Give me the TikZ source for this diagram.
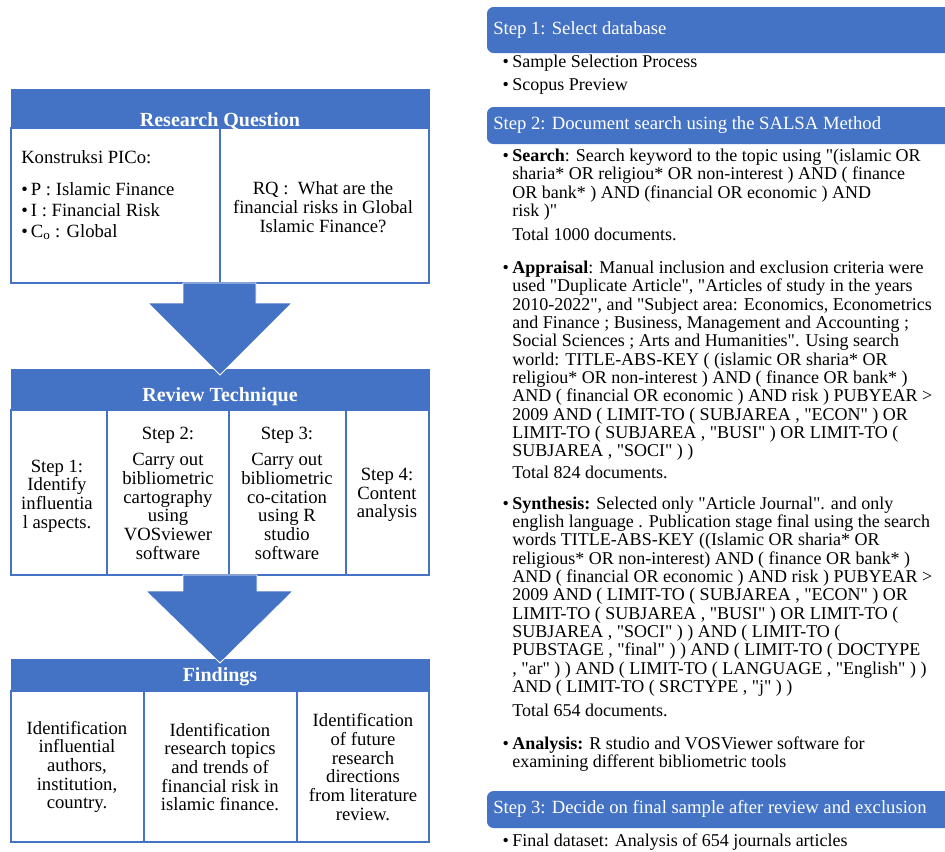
\documentclass[tikz,border=0pt]{standalone}
\usepackage{fontspec}
\setmainfont{Liberation Serif}[Ligatures=TeXOff]
\definecolor{hdrblue}{HTML}{4472C4}
\tikzset{
  hdr/.style={fill=hdrblue, draw=hdrblue},
  cell/.style={draw=hdrblue, line width=1.1pt, fill=white},
  hdrtext/.style={text=white, inner sep=0pt, font=\fontsize{15}{16}\selectfont\bfseries},
  body/.style={inner sep=0pt, align=center, font=\fontsize{14}{14}\selectfont},
  item/.style={inner sep=0pt, align=left, anchor=base west, font=\fontsize{13.5}{13.75}\selectfont},
  stephdr/.style={fill=hdrblue, rounded corners=5pt},
  steptext/.style={text=white, inner sep=0pt, anchor=west, font=\fontsize{14}{16}\selectfont},
  blockarrow/.style={fill=hdrblue, draw=white, line width=0.6pt},
}
\newcommand{\bul}{\llap{\textbullet\hspace{2.5pt}}}
\begin{document}
\begin{tikzpicture}[x=0.75pt,y=-0.75pt]
\useasboundingbox (0,0) rectangle (945,851);
\fill[white] (0,0) rectangle (945,851);

% research question
\draw[hdr] (11,89) rectangle (429,128);
\draw[cell] (11,128) rectangle (220,283);
\draw[cell] (220,128) rectangle (429,283);
\node[hdrtext] (rqhead) at (220,121) {Research Question};
\node[body, align=left, anchor=base west, font=\fontsize{14}{15.75}\selectfont] (pico) at (21,237)
  {Konstruksi PICo:\\[8pt]
   \textbullet\,P : Islamic Finance\\
   \textbullet\,I : Financial Risk\\
   \textbullet\,C\textsubscript{o} : Global};
\node[body] (rq) at (323,207) {RQ :\ \ What are the\\financial risks in Global\\Islamic Finance?};

% review technique
\draw[hdr] (11,369) rectangle (429,410);
\draw[cell] (11,410) rectangle (107,575);
\draw[cell] (107,410) rectangle (229,575);
\draw[cell] (229,410) rectangle (346,575);
\draw[cell] (346,410) rectangle (429,575);
\fill[blockarrow] (183,283) -- (256,283) -- (256,303) -- (292,303) -- (220,375) -- (148,303) -- (183,303) -- cycle;
\node[hdrtext] (rthead) at (220,397) {Review Technique};
\node[body] (step1) at (57,496) {Step 1:\\Identify\\influentia\\l aspects.};
\node[body] (step2) at (168,493) {Step 2:\\[6pt]Carry out\\bibliometric\\cartography\\using\\VOSviewer\\software};
\node[body] (step3) at (287,493) {Step 3:\\[6pt]Carry out\\bibliometric\\co-citation\\using R\\studio\\software};
\node[body] (step4) at (387,495) {Step 4:\\Content\\analysis};

% findings
\draw[hdr] (11,659) rectangle (429,691);
\draw[cell] (11,691) rectangle (144,842);
\draw[cell] (144,691) rectangle (297,842);
\draw[cell] (297,691) rectangle (429,842);
\fill[blockarrow] (183,575) -- (257,575) -- (257,591) -- (293,591) -- (220,663) -- (146,591) -- (183,591) -- cycle;
\node[hdrtext] (fhead) at (220,677) {Findings};
\node[body] (find1) at (77,767) {Identification\\influential\\authors,\\institution,\\country.};
\node[body] (find2) at (220,767) {Identification\\research topics\\and trends of\\financial risk in\\islamic finance.};
\node[body] (find3) at (363,767) {Identification\\of future\\research\\directions\\from literature\\review.};

% salsa steps
\fill[stephdr] (487,7) rectangle (975,53);
\node[steptext] (db) at (493,30) {Step 1: Select database};
\node[item] (sample) at (512,67.5) {\bul Sample Selection Process};
\node[item] (scopus) at (512,90.5) {\bul Scopus Preview};

\fill[stephdr] (487,107) rectangle (975,144);
\node[steptext] (salsa) at (493,125) {Step 2: Document search using the SALSA Method};
\node[item] (search) at (512,240)
  {\bul\textbf{Search}: Search keyword to the topic using "(islamic OR\\
   sharia* OR religiou* OR non-interest ) AND ( finance\\
   OR bank* ) AND (financial OR economic ) AND\\
   risk )"\\[4pt]
   Total 1000 documents.};
\node[item] (appraisal) at (512,478.5)
  {\bul\textbf{Appraisal}: Manual inclusion and exclusion criteria were\\
   used "Duplicate Article", "Articles of study in the years\\
   2010-2022", and "Subject area: Economics, Econometrics\\
   and Finance ; Business, Management and Accounting ;\\
   Social Sciences ; Arts and Humanities". Using search\\
   world: TITLE-ABS-KEY ( (islamic OR sharia* OR\\
   religiou* OR non-interest ) AND ( finance OR bank* )\\
   AND ( financial OR economic ) AND risk ) PUBYEAR >\\
   2009 AND ( LIMIT-TO ( SUBJAREA , "ECON" ) OR\\
   LIMIT-TO ( SUBJAREA , "BUSI" ) OR LIMIT-TO (\\
   SUBJAREA , "SOCI" ) )\\[2.5pt]
   Total 824 documents.};
\node[item] (synthesis) at (512,716)
  {\bul\textbf{Synthesis:} Selected only "Article Journal". and only\\
   english language . Publication stage final using the search\\
   words TITLE-ABS-KEY ((Islamic OR sharia* OR\\
   religious* OR non-interest) AND ( finance OR bank* )\\
   AND ( financial OR economic ) AND risk ) PUBYEAR >\\
   2009 AND ( LIMIT-TO ( SUBJAREA , "ECON" ) OR\\
   LIMIT-TO ( SUBJAREA , "BUSI" ) OR LIMIT-TO (\\
   SUBJAREA , "SOCI" ) ) AND ( LIMIT-TO (\\
   PUBSTAGE , "final" ) ) AND ( LIMIT-TO ( DOCTYPE\\
   , "ar" ) ) AND ( LIMIT-TO ( LANGUAGE , "English" ) )\\
   AND ( LIMIT-TO ( SRCTYPE , "j" ) )\\[4pt]
   Total 654 documents.};
\node[item] (analysis) at (512,767.5)
  {\bul\textbf{Analysis:} R studio and VOSViewer software for\\
   examining different bibliometric tools};

\fill[stephdr] (487,791) rectangle (975,828);
\node[steptext] (final) at (493,809) {Step 3: Decide on final sample after review and exclusion};
\node[item] (dataset) at (512,846.5) {\bul Final dataset: Analysis of 654 journals articles};
\end{tikzpicture}
\end{document}
